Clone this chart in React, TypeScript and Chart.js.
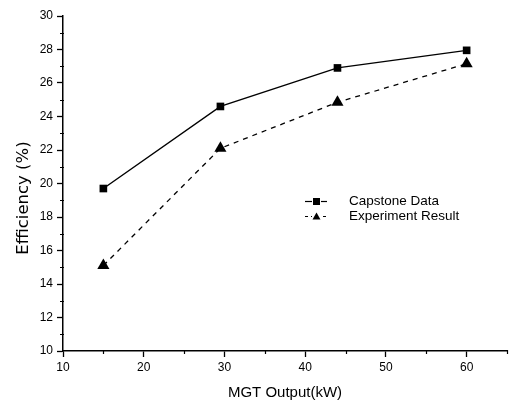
import React, { useEffect, useRef } from "react";
import { Chart, registerables } from "chart.js";

Chart.register(...registerables);

const seriesNames = ["Capstone Data", "Experiment Result"];
const outputKW = [15, 29.5, 44, 60];
const capstoneData = [19.7, 24.6, 26.9, 27.95];
const experimentResult = [15.1, 22.1, 24.85, 27.15];
const xMajorTicks = [10, 20, 30, 40, 50, 60];
const xMinorTicks = [15, 25, 35, 45, 55, 65];
const yMajorTicks = [10, 12, 14, 16, 18, 20, 22, 24, 26, 28, 30];
const yMinorTicks = [11, 13, 15, 17, 19, 21, 23, 25, 27, 29];
const yAxisTitle = "Efficiency (%)";
const xAxisTitle = "MGT Output(kW)";

const FONT = "'Liberation Sans', Arial, sans-serif";

const minorTicksPlugin = {
  id: "minorTicks",
  afterDraw(chart: any) {
    const ctx = chart.ctx;
    const xs = chart.scales.x;
    const ys = chart.scales.y;
    const area = chart.chartArea;
    ctx.save();
    ctx.strokeStyle = "#000";
    ctx.lineWidth = 1.2;
    ctx.beginPath();
    xMinorTicks.forEach((v) => {
      const px = Math.round(xs.getPixelForValue(v)) + 0.5;
      ctx.moveTo(px, area.bottom - 1);
      ctx.lineTo(px, area.bottom + 3);
    });
    yMinorTicks.forEach((v) => {
      const py = Math.round(ys.getPixelForValue(v)) + 0.5;
      ctx.moveTo(area.left - 3, py);
      ctx.lineTo(area.left + 1, py);
    });
    ctx.stroke();

    // y axis title
    ctx.translate(24, 198);
    ctx.rotate(-Math.PI / 2);
    ctx.font = `16.5px 'DejaVu Sans', sans-serif`;
    ctx.fillStyle = "#000";
    ctx.textAlign = "center";
    ctx.textBaseline = "middle";
    ctx.fillText(yAxisTitle, 0, 0);
    ctx.restore();
  },
};

const legendPlugin = {
  id: "insideLegend",
  afterDraw(chart: any) {
    const ctx = chart.ctx;
    const ds = chart.data.datasets;
    const x0 = 305;
    const x1 = 327;
    const cx = 316;
    const rows = [201, 216];
    ctx.save();
    ctx.strokeStyle = "#000";
    ctx.fillStyle = "#000";
    ctx.font = `13.5px ${FONT}`;
    ctx.textBaseline = "middle";
    ctx.textAlign = "left";
    ds.forEach((d: any, i: number) => {
      const y = rows[i];
      ctx.lineWidth = 1.2;
      ctx.setLineDash(i === 0 ? [] : [3, 3]);
      ctx.beginPath();
      ctx.moveTo(x0, y + 0.5);
      ctx.lineTo(x1, y + 0.5);
      ctx.stroke();
      ctx.setLineDash([]);
      if (i === 0) {
        ctx.fillStyle = "#fff";
        ctx.fillRect(cx - 4, y - 4, 9, 9);
        ctx.fillStyle = "#000";
        ctx.fillRect(cx - 3, y - 3, 7, 7);
      } else {
        ctx.fillStyle = "#fff";
        ctx.fillRect(cx - 4, y - 4, 10, 9);
        ctx.fillStyle = "#000";
        ctx.beginPath();
        ctx.moveTo(cx + 0.5, y - 3.5);
        ctx.lineTo(cx + 4.5, y + 3.5);
        ctx.lineTo(cx - 3.5, y + 3.5);
        ctx.closePath();
        ctx.fill();
      }
      ctx.fillText(d.label, 349, y + 0.5);
    });
    ctx.restore();
  },
};

export default function App() {
  const canvasRef = useRef<HTMLCanvasElement | null>(null);

  useEffect(() => {
    if (!canvasRef.current) return;
    Chart.defaults.font.family = FONT;
    Chart.defaults.color = "#000";
    const chart = new Chart(canvasRef.current, {
      type: "scatter",
      data: {
        datasets: [
          {
            label: seriesNames[0],
            data: outputKW.map((x, i) => ({ x, y: capstoneData[i] })),
            showLine: true,
            borderColor: "#000",
            backgroundColor: "#000",
            borderWidth: 1.4,
            pointStyle: "rect",
            pointRadius: 5.4,
            pointBorderWidth: 0,
          },
          {
            label: seriesNames[1],
            data: outputKW.map((x, i) => ({ x, y: experimentResult[i] })),
            showLine: true,
            borderColor: "#000",
            backgroundColor: "#000",
            borderWidth: 1.3,
            borderDash: [5, 5],
            pointStyle: "triangle",
            pointRadius: 7,
            pointBorderWidth: 0,
          },
        ],
      },
      options: {
        responsive: false,
        animation: false,
        devicePixelRatio: 1,
        layout: { padding: { left: 0, top: 16, right: 7, bottom: 0 } },
        plugins: {
          legend: { display: false },
          tooltip: { enabled: false },
        },
        scales: {
          x: {
            type: "linear",
            min: 10,
            max: 65,
            afterBuildTicks: (scale: any) => {
              scale.ticks = xMajorTicks.map((v) => ({ value: v }));
            },
            afterFit: (scale: any) => {
              scale.height = 49;
            },
            border: { display: true, color: "#000", width: 1.5 },
            grid: {
              drawOnChartArea: false,
              drawTicks: true,
              tickLength: 6,
              tickColor: "#000",
              tickWidth: 1.3,
            },
            ticks: {
              font: { size: 12, family: FONT },
              color: "#000",
              padding: 3,
              maxRotation: 0,
            },
            title: {
              display: true,
              text: xAxisTitle,
              font: { size: 15, family: FONT },
              color: "#000",
              padding: { top: 0, bottom: -2 },
            },
          },
          y: {
            type: "linear",
            min: 10,
            max: 30,
            afterBuildTicks: (scale: any) => {
              scale.ticks = yMajorTicks.map((v) => ({ value: v }));
            },
            afterFit: (scale: any) => {
              scale.width = 63;
            },
            border: { display: true, color: "#000", width: 1.5 },
            grid: {
              drawOnChartArea: false,
              drawTicks: true,
              tickLength: 6,
              tickColor: "#000",
              tickWidth: 1.3,
            },
            ticks: {
              font: { size: 12, family: FONT },
              color: "#000",
              padding: 4,
            },
            title: { display: false },
          },
        },
      },
      plugins: [minorTicksPlugin, legendPlugin],
    } as any);
    return () => chart.destroy();
  }, []);

  return (
    <div style={{ position: "fixed", left: 0, top: 0, width: 514, height: 400, background: "#fff" }}>
      <canvas ref={canvasRef} width={514} height={400} />
    </div>
  );
}
